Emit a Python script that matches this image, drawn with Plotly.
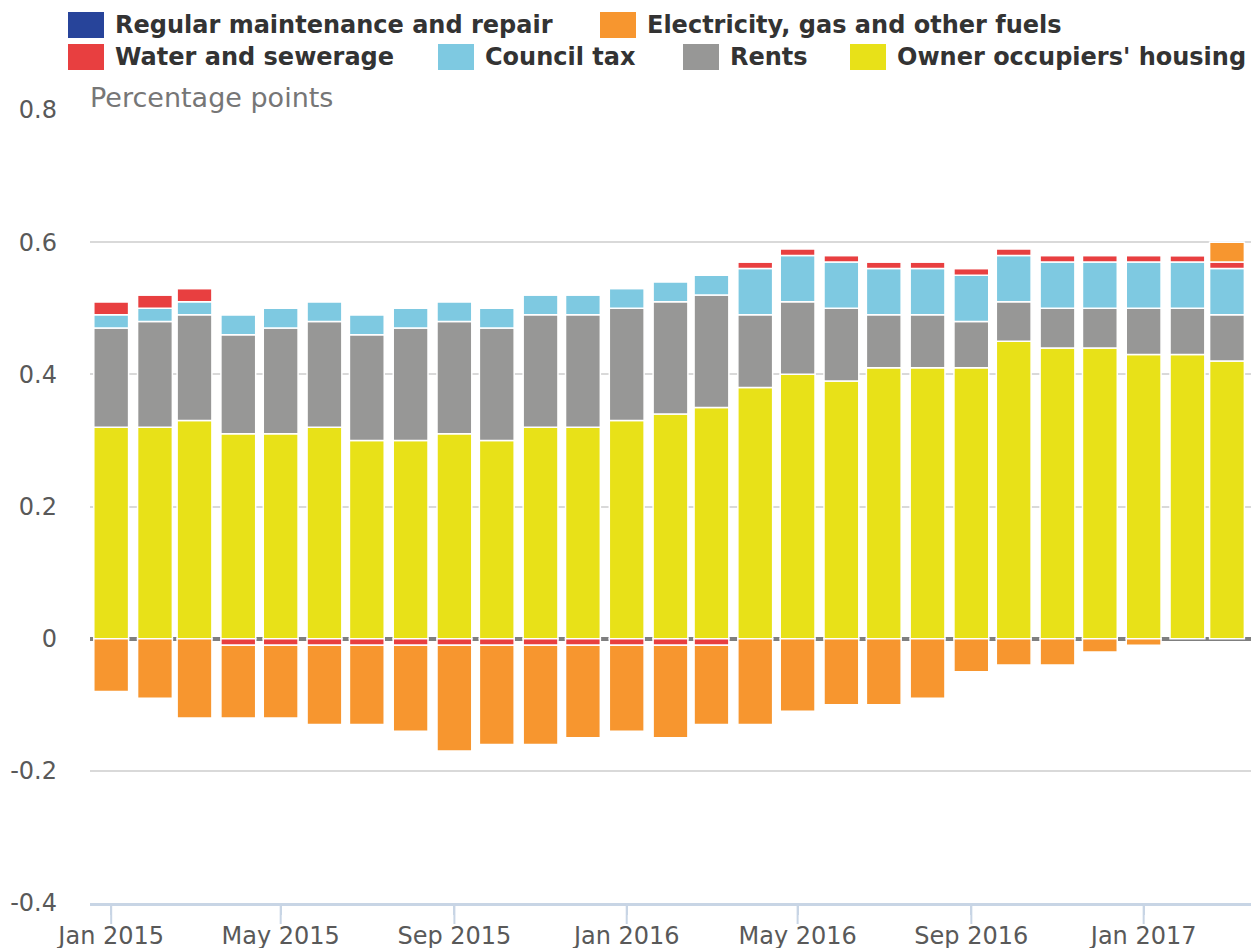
import plotly.graph_objects as go
import pandas as pd

months = pd.date_range('2015-01-01', '2017-03-01', freq='MS')

owner_occupiers = [0.32, 0.32, 0.33, 0.31, 0.31, 0.32, 0.30, 0.30, 0.31, 0.30, 0.32, 0.32, 0.33,
                   0.34, 0.35, 0.38, 0.40, 0.39, 0.41, 0.41, 0.41, 0.45, 0.44, 0.44, 0.43, 0.43, 0.42]
rents = [0.15, 0.16, 0.16, 0.15, 0.16, 0.16, 0.16, 0.17, 0.17, 0.17, 0.17, 0.17, 0.17,
         0.17, 0.17, 0.11, 0.11, 0.11, 0.08, 0.08, 0.07, 0.06, 0.06, 0.06, 0.07, 0.07, 0.07]
council_tax = [0.02, 0.02, 0.02, 0.03, 0.03, 0.03, 0.03, 0.03, 0.03, 0.03, 0.03, 0.03, 0.03,
               0.03, 0.03, 0.07, 0.07, 0.07, 0.07, 0.07, 0.07, 0.07, 0.07, 0.07, 0.07, 0.07, 0.07]
water = [0.02, 0.02, 0.02, -0.01, -0.01, -0.01, -0.01, -0.01, -0.01, -0.01, -0.01, -0.01, -0.01,
         -0.01, -0.01, 0.01, 0.01, 0.01, 0.01, 0.01, 0.01, 0.01, 0.01, 0.01, 0.01, 0.01, 0.01]
electricity = [-0.08, -0.09, -0.12, -0.11, -0.11, -0.12, -0.12, -0.13, -0.16, -0.15, -0.15, -0.14, -0.13,
               -0.14, -0.12, -0.13, -0.11, -0.10, -0.10, -0.09, -0.05, -0.04, -0.04, -0.02, -0.01, 0.0, 0.03]
maintenance = [0.0, 0.0, 0.0, 0.0, 0.0, 0.0, 0.0, 0.0, 0.0, 0.0, 0.0, 0.0, 0.0,
               0.0, 0.0, 0.0, 0.0, 0.0, 0.0, 0.0, 0.0, 0.0, 0.0, 0.0, 0.0, 0.0, 0.0]

x_ticks = ['2015-01-01', '2015-05-01', '2015-09-01', '2016-01-01', '2016-05-01', '2016-09-01', '2017-01-01']
y_ticks = [-0.4, -0.2, 0, 0.2, 0.4, 0.6, 0.8]
y_tick_labels = ['-0.4', '-0.2', '0', '0.2', '0.4', '0.6', '0.8']

NAVY = '#27449a'
ORANGE = '#f7962f'
RED = '#e83f40'
LIGHT_BLUE = '#7ec9e1'
GREY = '#979796'
YELLOW = '#e8e118'
AXIS = '#c8d5e5'

# stacking order (bottom up)
series = [
    ("Owner occupiers' housing", owner_occupiers, YELLOW),
    ('Rents', rents, GREY),
    ('Council tax', council_tax, LIGHT_BLUE),
    ('Water and sewerage', water, RED),
    ('Electricity, gas and other fuels', electricity, ORANGE),
    ('Regular maintenance and repair', maintenance, NAVY),
]

W, H = 1251, 948
ML, MR, MT, MB = 90, 0, 110, 45


def px_x(px):
    return (px - ML) / (W - ML - MR)


def px_y(py):
    return (H - MB - py) / (H - MT - MB)


fig = go.Figure()
for name, vals, col in series:
    fig.add_trace(go.Bar(
        x=months, y=vals, name=name,
        marker=dict(color=col, line=dict(color='white', width=1.5)),
        showlegend=False
    ))

# legend drawn by hand: (name, colour, left px, row)
legend_rows = [
    ('Regular maintenance and repair', NAVY, 68, 0),
    ('Electricity, gas and other fuels', ORANGE, 600, 0),
    ('Water and sewerage', RED, 68, 1),
    ('Council tax', LIGHT_BLUE, 438, 1),
    ('Rents', GREY, 683, 1),
    ("Owner occupiers' housing", YELLOW, 850, 1),
]
shapes = []
annotations = []
for name, col, left, row in legend_rows:
    top = 12 + row * 32
    shapes.append(dict(type='rect', xref='paper', yref='paper',
                       x0=px_x(left), x1=px_x(left + 36), y0=px_y(top + 26), y1=px_y(top),
                       fillcolor=col, line=dict(width=0)))
    annotations.append(dict(xref='paper', yref='paper', x=px_x(left + 45), y=px_y(top + 13),
                            xanchor='left', yanchor='middle', showarrow=False, text=name,
                            font=dict(family='DejaVu Sans', size=24, color='#333333', weight='bold')))

# long tick marks under the x axis
for t in x_ticks:
    shapes.append(dict(type='line', xref='x', yref='paper', x0=t, x1=t,
                       y0=0, y1=px_y(924), line=dict(color=AXIS, width=2)))

annotations.append(dict(xref='paper', yref='paper', x=0, y=1, xanchor='left', yanchor='bottom',
                        showarrow=False, text='Percentage points', yshift=-5, xshift=-2,
                        font=dict(family='DejaVu Sans', size=27, color='#767676')))

fig.update_layout(
    width=W, height=H,
    margin=dict(l=ML, r=MR, t=MT, b=MB),
    barmode='relative', bargap=0.12,
    plot_bgcolor='white', paper_bgcolor='white',
    font=dict(family='DejaVu Sans', size=24, color='#595959'),
    shapes=shapes, annotations=annotations,
    xaxis=dict(
        type='date', range=['2014-12-17', '2017-03-18'],
        tickvals=x_ticks, tickformat='%b %Y',
        showgrid=False, showline=True, linecolor=AXIS, linewidth=3,
        ticks='outside', ticklen=9, tickwidth=2, tickcolor=AXIS,
        automargin=False,
        tickfont=dict(size=24, color='#595959')
    ),
    yaxis=dict(
        range=[-0.4, 0.8], tickvals=y_ticks, ticktext=y_tick_labels,
        showgrid=True, gridcolor='#d9d9d9', gridwidth=2,
        zeroline=True, zerolinecolor='#7f7f7f', zerolinewidth=4,
        ticklabelstandoff=32, automargin=False,
        tickfont=dict(size=24, color='#595959')
    ),
)

fig.write_html('out.html', config={'displayModeBar': False},
               post_script="document.body.style.margin='0';")
